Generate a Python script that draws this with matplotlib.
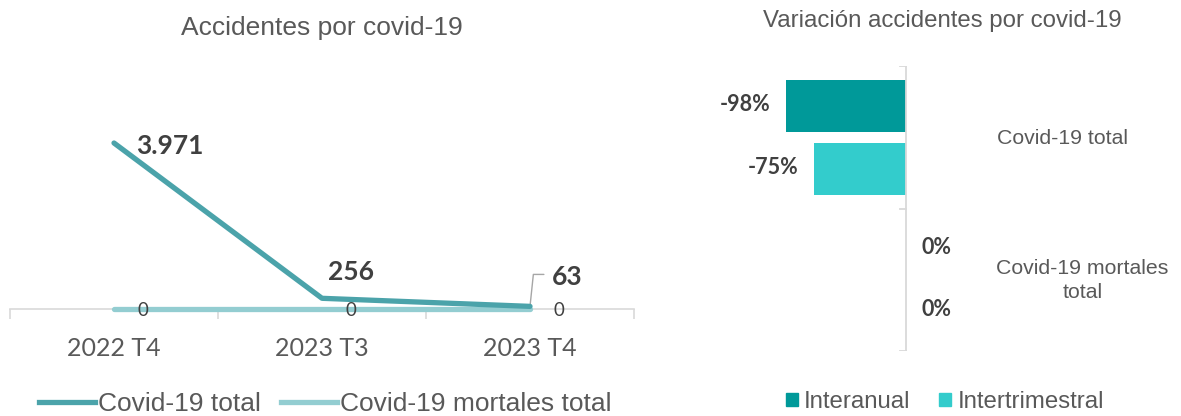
import matplotlib
matplotlib.use("Agg")
import matplotlib.pyplot as plt
from matplotlib.lines import Line2D
from matplotlib.patches import Patch

# ---- data ----
periods = ["2022 T4", "2023 T3", "2023 T4"]
covid_total = [3971, 256, 63]
covid_mortales = [0, 0, 0]
total_labels = ["3.971", "256", "63"]
mortales_labels = ["0", "0", "0"]

var_categories = ["Covid-19 total", "Covid-19 mortales\ntotal"]
interanual = [-0.98, 0.0]
intertrimestral = [-0.75, 0.0]
interanual_labels = ["-98%", "0%"]
intertrimestral_labels = ["-75%", "0%"]

W, H = 1181, 416
fig = plt.figure(figsize=(W / 100, H / 100), dpi=100)

def ax_rect(x0, y0, x1, y1):
    return [x0 / W, 1 - y1 / H, (x1 - x0) / W, (y1 - y0) / H]

c_total = "#4BA3AA"
c_mort = "#93CDD1"
c_text = "#404040"
c_gray = "#595959"
c_axis = "#D9D9D9"
sans = ["Liberation Sans", "DejaVu Sans"]
calib = ["Lato", "DejaVu Sans"]

# ---- left line chart ----
ax = fig.add_axes(ax_rect(10, 100, 634, 309))
x = list(range(len(periods)))
ax.plot(x, covid_mortales, color=c_mort, lw=3.8, solid_capstyle="round", zorder=4, clip_on=False)
ax.plot(x, covid_total, color=c_total, lw=3.8, solid_capstyle="round", zorder=5, clip_on=False)
ax.set_xlim(-0.5, 2.5)
ax.set_ylim(0, 5000)
for s in ["top", "right", "left"]:
    ax.spines[s].set_visible(False)
ax.spines["bottom"].set_color(c_axis)
ax.spines["bottom"].set_linewidth(1.2)
ax.set_yticks([])
ax.set_xticks([-0.5, 0.5, 1.5, 2.5], minor=False)
ax.set_xticklabels([])
ax.tick_params(axis="x", which="major", length=7, color=c_axis, width=1.2)
ax.set_xticks(x, minor=True)
ax.set_xticklabels(periods, minor=True, fontsize=18, color=c_gray, family=calib)
ax.tick_params(axis="x", which="minor", length=0, pad=20)

# value labels (offsets in points)
lab_kw = dict(textcoords="offset points", va="center", fontsize=19, fontweight="bold",
              color=c_text, family=calib, zorder=6)
ax.annotate(total_labels[0], (0, covid_total[0]), xytext=(16, -2), ha="left", **lab_kw)
ax.annotate(total_labels[1], (1, covid_total[1]), xytext=(21, 19), ha="center", **lab_kw)
ax.annotate(total_labels[2], (2, covid_total[2]), xytext=(16, 21), ha="left", **lab_kw)
# leader line for 63
ax.annotate("", (2, covid_total[2]), xytext=(10, 23), textcoords="offset points",
            arrowprops=dict(arrowstyle="-", color="#A6A6A6", lw=1, shrinkA=0, shrinkB=0,
                            connectionstyle="angle,angleA=0,angleB=84,rad=0"))
for i, lab in enumerate(mortales_labels):
    ax.annotate(lab, (i, covid_mortales[i]), xytext=(21, -1), textcoords="offset points",
                ha="center", va="center", fontsize=13.5, color=c_text, family=calib, zorder=7)

fig.text(322 / W, 1 - 28 / H, "Accidentes por covid-19", ha="center", va="center",
         fontsize=19, color=c_gray, family=sans)

leg_handles = [Line2D([], [], color=c_total, lw=3.8), Line2D([], [], color=c_mort, lw=3.8)]
fig.legend(leg_handles, ["Covid-19 total", "Covid-19 mortales total"], loc="center",
           bbox_to_anchor=(325 / W, 1 - 404 / H), ncol=2, frameon=False, prop={"family": sans, "size": 19},
           labelcolor=c_gray, handlelength=2.15, handletextpad=0.1, columnspacing=0.75,
           borderpad=0, borderaxespad=0)

# ---- right bar chart ----
axb = fig.add_axes(ax_rect(720, 66, 1170, 351))
gy = list(range(len(var_categories)))
off = 0.22
bh = 0.364
c_ia = "#009999"
c_it = "#33CCCC"
axb.barh([g - off for g in gy], interanual, height=bh, color=c_ia, zorder=2)
axb.barh([g + off for g in gy], intertrimestral, height=bh, color=c_it, zorder=2)
axb.set_xlim(-1.518, 2.155)
axb.set_ylim(1.5, -0.5)
axb.axis("off")
axb.plot([0, 0], [-0.5, 1.5], color=c_axis, lw=1.3, zorder=3)
for yy in [-0.5, 0.5, 1.5]:
    axb.plot([-0.05, 0], [yy, yy], color=c_axis, lw=1.3, zorder=3)

for g in gy:
    for val, lab, dy in [(interanual[g], interanual_labels[g], -off), (intertrimestral[g], intertrimestral_labels[g], off)]:
        if val < 0:
            axb.annotate(lab, (val, g + dy), xytext=(-11, 1), textcoords="offset points",
                         ha="right", va="center", fontsize=15.5, fontweight="bold", color=c_text, family=calib)
        else:
            axb.annotate(lab, (val, g + dy), xytext=(11, 1), textcoords="offset points",
                         ha="left", va="center", fontsize=15.5, fontweight="bold", color=c_text, family=calib)

axb.text(1.28, 0.01, var_categories[0], ha="center", va="center", fontsize=15.3, color=c_gray, family=sans)
axb.text(1.44, 1.005, var_categories[1], ha="center", va="center", fontsize=15.3, color=c_gray, family=sans,
         linespacing=1.3)

fig.text(942 / W, 1 - 21 / H, "Variación accidentes por covid-19", ha="center", va="center",
         fontsize=17.3, color=c_gray, family=sans)

bar_handles = [Patch(color=c_ia), Patch(color=c_it)]
fig.legend(bar_handles, ["Interanual", "Intertrimestral"], loc="center",
           bbox_to_anchor=(945 / W, 1 - 402 / H), ncol=2, frameon=False, prop={"family": sans, "size": 17.3},
           labelcolor=c_gray, handlelength=0.5, handleheight=0.5, handletextpad=0.25, columnspacing=1.2,
           borderpad=0, borderaxespad=0)

fig.savefig("out.png", dpi=100)
